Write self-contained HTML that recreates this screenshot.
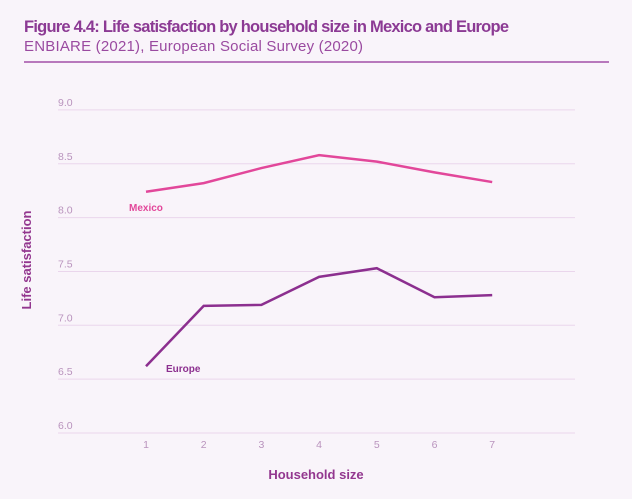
<!DOCTYPE html>
<html><head><meta charset="utf-8"><style>
body{margin:0;background:#f9f4fa;}
svg{display:block;font-family:"Liberation Sans",sans-serif;}
</style></head><body>
<svg width="632" height="499" viewBox="0 0 632 499">
<rect width="632" height="499" fill="#f9f4fa"/>
<text x="24" y="32" font-size="16.5" font-weight="bold" fill="#8c3a94" textLength="485">Figure 4.4: Life satisfaction by household size in Mexico and Europe</text>
<text x="24" y="51" font-size="15" fill="#9a4aa0" textLength="339">ENBIARE (2021), European Social Survey (2020)</text>
<line x1="24" y1="62" x2="609" y2="62" stroke="#a24fa8" stroke-width="1.5"/>
<g id="grid"></g>
<g id="series"></g>
<text x="31" y="260" font-size="13" font-weight="bold" fill="#93378f" text-anchor="middle" transform="rotate(-90 31 260)">Life satisfaction</text>
<text x="316" y="479" font-size="13" font-weight="bold" fill="#93378f" text-anchor="middle">Household size</text>
</svg>
<script>
const categories=[1,2,3,4,5,6,7];
const mexico=[8.24,8.32,8.46,8.58,8.52,8.42,8.33];
const europe=[6.62,7.18,7.19,7.45,7.53,7.26,7.28];
const yTicks=[6.0,6.5,7.0,7.5,8.0,8.5,9.0];
const NS='http://www.w3.org/2000/svg';
function xS(c){return 146+(c-1)*57.7;}
function yS(v){return 433-(v-6)*107.7;}
const grid=document.getElementById('grid');
yTicks.forEach(t=>{
  const l=document.createElementNS(NS,'line');
  l.setAttribute('x1',58);l.setAttribute('x2',575);
  l.setAttribute('y1',yS(t));l.setAttribute('y2',yS(t));
  l.setAttribute('stroke','#ead6ec');l.setAttribute('stroke-width','1');
  
  
  grid.appendChild(l);
  const tx=document.createElementNS(NS,'text');
  tx.setAttribute('x',58);tx.setAttribute('y',yS(t)-4);
  tx.setAttribute('font-size','10.5');tx.setAttribute('fill','#b993bd');
  tx.textContent=t.toFixed(1);
  
  
  grid.appendChild(tx);
});
categories.forEach(c=>{
  const tx=document.createElementNS(NS,'text');
  tx.setAttribute('x',xS(c));tx.setAttribute('y',448);
  tx.setAttribute('font-size','10.5');tx.setAttribute('fill','#b993bd');
  tx.setAttribute('text-anchor','middle');
  tx.textContent=c;
  
  
  grid.appendChild(tx);
});
const sg=document.getElementById('series');
function line(vals,color,name){
  const p=document.createElementNS(NS,'polyline');
  p.setAttribute('points',vals.map((v,i)=>xS(categories[i])+','+yS(v)).join(' '));
  p.setAttribute('fill','none');p.setAttribute('stroke',color);p.setAttribute('stroke-width','2.5');
  
  
  sg.appendChild(p);
}
line(mexico,'#e2479a','mexico-line');
line(europe,'#8c2f8f','europe-line');
const lm=document.createElementNS(NS,'text');
lm.setAttribute('x',129);lm.setAttribute('y',yS(mexico[0])+19);
lm.setAttribute('font-size','10');lm.setAttribute('font-weight','bold');lm.setAttribute('fill','#e2479a');
lm.textContent='Mexico';


sg.appendChild(lm);
const le=document.createElementNS(NS,'text');
le.setAttribute('x',166);le.setAttribute('y',yS(europe[0])+6);
le.setAttribute('font-size','10');le.setAttribute('font-weight','bold');le.setAttribute('fill','#8c2f8f');
le.textContent='Europe';


sg.appendChild(le);
</script>
</body></html>
